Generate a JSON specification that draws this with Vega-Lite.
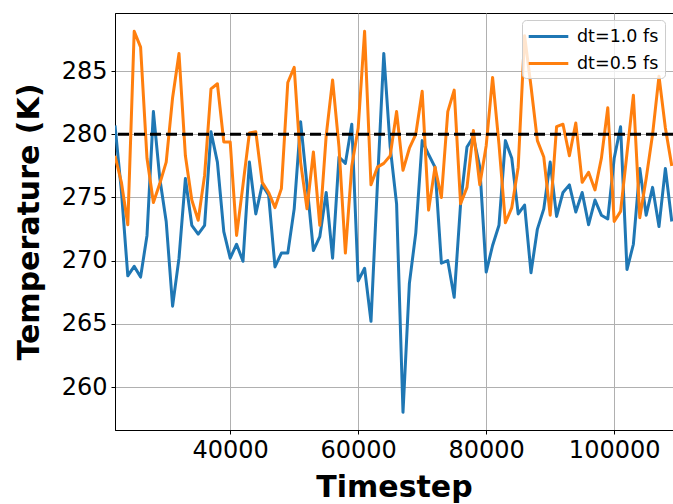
{
  "$schema": "https://vega.github.io/schema/vega-lite/v6.json",
  "width": 558,
  "height": 417,
  "autosize": {"type": "none"},
  "padding": {"left": 115, "top": 13, "right": 0, "bottom": 74},
  "background": "white",
  "config": {
    "font": "DejaVu Sans",
    "view": {"stroke": "#000000", "strokeWidth": 1},
    "axis": {
      "labelFont": "DejaVu Sans", "labelFontSize": 24, "labelColor": "#000000",
      "titleFont": "DejaVu Sans", "titleFontSize": 30, "titleFontWeight": "bold", "titleColor": "#000000",
      "tickColor": "#000000", "tickSize": 4, "tickWidth": 1, "labelPadding": 4,
      "domainColor": "#000000", "domainWidth": 1,
      "grid": true, "gridColor": "#b0b0b0", "gridWidth": 1
    }
  },
  "datasets": {
    "temps": [
      {"t":22000,"T":280.7,"s":"dt=1.0 fs"},{"t":23000,"T":275.5,"s":"dt=1.0 fs"},{"t":24000,"T":268.8,"s":"dt=1.0 fs"},{"t":25000,"T":269.55,"s":"dt=1.0 fs"},{"t":26000,"T":268.7,"s":"dt=1.0 fs"},{"t":27000,"T":272.0,"s":"dt=1.0 fs"},{"t":28000,"T":281.8,"s":"dt=1.0 fs"},{"t":29000,"T":276.5,"s":"dt=1.0 fs"},{"t":30000,"T":273.1,"s":"dt=1.0 fs"},{"t":31000,"T":266.4,"s":"dt=1.0 fs"},
      {"t":32000,"T":270.2,"s":"dt=1.0 fs"},{"t":33000,"T":276.5,"s":"dt=1.0 fs"},{"t":34000,"T":272.8,"s":"dt=1.0 fs"},{"t":35000,"T":272.1,"s":"dt=1.0 fs"},{"t":36000,"T":272.8,"s":"dt=1.0 fs"},{"t":37000,"T":280.2,"s":"dt=1.0 fs"},{"t":38000,"T":277.8,"s":"dt=1.0 fs"},{"t":39000,"T":272.3,"s":"dt=1.0 fs"},{"t":40000,"T":270.2,"s":"dt=1.0 fs"},{"t":41000,"T":271.3,"s":"dt=1.0 fs"},
      {"t":42000,"T":269.95,"s":"dt=1.0 fs"},{"t":43000,"T":277.8,"s":"dt=1.0 fs"},{"t":44000,"T":273.7,"s":"dt=1.0 fs"},{"t":45000,"T":276.0,"s":"dt=1.0 fs"},{"t":46000,"T":275.2,"s":"dt=1.0 fs"},{"t":47000,"T":269.5,"s":"dt=1.0 fs"},{"t":48000,"T":270.6,"s":"dt=1.0 fs"},{"t":49000,"T":270.6,"s":"dt=1.0 fs"},{"t":50000,"T":274.1,"s":"dt=1.0 fs"},{"t":51000,"T":281.0,"s":"dt=1.0 fs"},
      {"t":52000,"T":276.0,"s":"dt=1.0 fs"},{"t":53000,"T":270.8,"s":"dt=1.0 fs"},{"t":54000,"T":271.9,"s":"dt=1.0 fs"},{"t":55000,"T":275.4,"s":"dt=1.0 fs"},{"t":56000,"T":270.2,"s":"dt=1.0 fs"},{"t":57000,"T":278.2,"s":"dt=1.0 fs"},{"t":58000,"T":277.7,"s":"dt=1.0 fs"},{"t":59000,"T":280.8,"s":"dt=1.0 fs"},{"t":60000,"T":268.4,"s":"dt=1.0 fs"},{"t":61000,"T":269.4,"s":"dt=1.0 fs"},
      {"t":62000,"T":265.2,"s":"dt=1.0 fs"},{"t":63000,"T":276.0,"s":"dt=1.0 fs"},{"t":64000,"T":286.4,"s":"dt=1.0 fs"},{"t":65000,"T":279.0,"s":"dt=1.0 fs"},{"t":66000,"T":274.5,"s":"dt=1.0 fs"},{"t":67000,"T":258.0,"s":"dt=1.0 fs"},{"t":68000,"T":268.2,"s":"dt=1.0 fs"},{"t":69000,"T":272.2,"s":"dt=1.0 fs"},{"t":70000,"T":279.5,"s":"dt=1.0 fs"},{"t":71000,"T":278.4,"s":"dt=1.0 fs"},
      {"t":72000,"T":277.4,"s":"dt=1.0 fs"},{"t":73000,"T":269.8,"s":"dt=1.0 fs"},{"t":74000,"T":270.0,"s":"dt=1.0 fs"},{"t":75000,"T":267.1,"s":"dt=1.0 fs"},{"t":76000,"T":274.5,"s":"dt=1.0 fs"},{"t":77000,"T":279.0,"s":"dt=1.0 fs"},{"t":78000,"T":279.8,"s":"dt=1.0 fs"},{"t":79000,"T":277.4,"s":"dt=1.0 fs"},{"t":80000,"T":269.1,"s":"dt=1.0 fs"},{"t":81000,"T":271.2,"s":"dt=1.0 fs"},
      {"t":82000,"T":272.8,"s":"dt=1.0 fs"},{"t":83000,"T":279.5,"s":"dt=1.0 fs"},{"t":84000,"T":278.1,"s":"dt=1.0 fs"},{"t":85000,"T":273.7,"s":"dt=1.0 fs"},{"t":86000,"T":274.4,"s":"dt=1.0 fs"},{"t":87000,"T":269.05,"s":"dt=1.0 fs"},{"t":88000,"T":272.5,"s":"dt=1.0 fs"},{"t":89000,"T":274.1,"s":"dt=1.0 fs"},{"t":90000,"T":277.8,"s":"dt=1.0 fs"},{"t":91000,"T":273.5,"s":"dt=1.0 fs"},
      {"t":92000,"T":275.4,"s":"dt=1.0 fs"},{"t":93000,"T":276.0,"s":"dt=1.0 fs"},{"t":94000,"T":273.85,"s":"dt=1.0 fs"},{"t":95000,"T":275.4,"s":"dt=1.0 fs"},{"t":96000,"T":272.85,"s":"dt=1.0 fs"},{"t":97000,"T":274.8,"s":"dt=1.0 fs"},{"t":98000,"T":273.6,"s":"dt=1.0 fs"},{"t":99000,"T":273.3,"s":"dt=1.0 fs"},{"t":100000,"T":278.1,"s":"dt=1.0 fs"},{"t":101000,"T":280.6,"s":"dt=1.0 fs"},
      {"t":102000,"T":269.3,"s":"dt=1.0 fs"},{"t":103000,"T":271.3,"s":"dt=1.0 fs"},{"t":104000,"T":277.3,"s":"dt=1.0 fs"},{"t":105000,"T":273.6,"s":"dt=1.0 fs"},{"t":106000,"T":275.8,"s":"dt=1.0 fs"},{"t":107000,"T":272.7,"s":"dt=1.0 fs"},{"t":108000,"T":277.3,"s":"dt=1.0 fs"},{"t":109000,"T":273.1,"s":"dt=1.0 fs"},
      {"t":22000,"T":278.3,"s":"dt=0.5 fs"},{"t":23000,"T":276.2,"s":"dt=0.5 fs"},{"t":24000,"T":272.85,"s":"dt=0.5 fs"},{"t":25000,"T":288.15,"s":"dt=0.5 fs"},{"t":26000,"T":286.9,"s":"dt=0.5 fs"},{"t":27000,"T":278.1,"s":"dt=0.5 fs"},{"t":28000,"T":274.6,"s":"dt=0.5 fs"},{"t":29000,"T":276.1,"s":"dt=0.5 fs"},{"t":30000,"T":277.8,"s":"dt=0.5 fs"},{"t":31000,"T":282.9,"s":"dt=0.5 fs"},
      {"t":32000,"T":286.4,"s":"dt=0.5 fs"},{"t":33000,"T":278.3,"s":"dt=0.5 fs"},{"t":34000,"T":274.8,"s":"dt=0.5 fs"},{"t":35000,"T":273.2,"s":"dt=0.5 fs"},{"t":36000,"T":276.75,"s":"dt=0.5 fs"},{"t":37000,"T":283.6,"s":"dt=0.5 fs"},{"t":38000,"T":284.0,"s":"dt=0.5 fs"},{"t":39000,"T":279.4,"s":"dt=0.5 fs"},{"t":40000,"T":279.4,"s":"dt=0.5 fs"},{"t":41000,"T":272.0,"s":"dt=0.5 fs"},
      {"t":42000,"T":276.0,"s":"dt=0.5 fs"},{"t":43000,"T":280.1,"s":"dt=0.5 fs"},{"t":44000,"T":280.2,"s":"dt=0.5 fs"},{"t":45000,"T":276.2,"s":"dt=0.5 fs"},{"t":46000,"T":275.4,"s":"dt=0.5 fs"},{"t":47000,"T":274.2,"s":"dt=0.5 fs"},{"t":48000,"T":275.7,"s":"dt=0.5 fs"},{"t":49000,"T":284.1,"s":"dt=0.5 fs"},{"t":50000,"T":285.3,"s":"dt=0.5 fs"},{"t":51000,"T":277.8,"s":"dt=0.5 fs"},
      {"t":52000,"T":274.1,"s":"dt=0.5 fs"},{"t":53000,"T":278.6,"s":"dt=0.5 fs"},{"t":54000,"T":272.8,"s":"dt=0.5 fs"},{"t":55000,"T":279.9,"s":"dt=0.5 fs"},{"t":56000,"T":284.3,"s":"dt=0.5 fs"},{"t":57000,"T":279.0,"s":"dt=0.5 fs"},{"t":58000,"T":270.6,"s":"dt=0.5 fs"},{"t":59000,"T":277.5,"s":"dt=0.5 fs"},{"t":60000,"T":280.5,"s":"dt=0.5 fs"},{"t":61000,"T":288.15,"s":"dt=0.5 fs"},
      {"t":62000,"T":276.0,"s":"dt=0.5 fs"},{"t":63000,"T":277.4,"s":"dt=0.5 fs"},{"t":64000,"T":277.7,"s":"dt=0.5 fs"},{"t":65000,"T":278.3,"s":"dt=0.5 fs"},{"t":66000,"T":281.8,"s":"dt=0.5 fs"},{"t":67000,"T":277.15,"s":"dt=0.5 fs"},{"t":68000,"T":278.9,"s":"dt=0.5 fs"},{"t":69000,"T":280.0,"s":"dt=0.5 fs"},{"t":70000,"T":283.4,"s":"dt=0.5 fs"},{"t":71000,"T":274.0,"s":"dt=0.5 fs"},
      {"t":72000,"T":277.4,"s":"dt=0.5 fs"},{"t":73000,"T":275.0,"s":"dt=0.5 fs"},{"t":74000,"T":281.8,"s":"dt=0.5 fs"},{"t":75000,"T":283.5,"s":"dt=0.5 fs"},{"t":76000,"T":274.5,"s":"dt=0.5 fs"},{"t":77000,"T":275.8,"s":"dt=0.5 fs"},{"t":78000,"T":280.3,"s":"dt=0.5 fs"},{"t":79000,"T":276.0,"s":"dt=0.5 fs"},{"t":80000,"T":279.1,"s":"dt=0.5 fs"},{"t":81000,"T":284.5,"s":"dt=0.5 fs"},
      {"t":82000,"T":279.2,"s":"dt=0.5 fs"},{"t":83000,"T":273.0,"s":"dt=0.5 fs"},{"t":84000,"T":274.2,"s":"dt=0.5 fs"},{"t":85000,"T":277.4,"s":"dt=0.5 fs"},{"t":86000,"T":287.8,"s":"dt=0.5 fs"},{"t":87000,"T":283.8,"s":"dt=0.5 fs"},{"t":88000,"T":279.5,"s":"dt=0.5 fs"},{"t":89000,"T":278.2,"s":"dt=0.5 fs"},{"t":90000,"T":273.6,"s":"dt=0.5 fs"},{"t":91000,"T":280.6,"s":"dt=0.5 fs"},
      {"t":92000,"T":280.8,"s":"dt=0.5 fs"},{"t":93000,"T":278.3,"s":"dt=0.5 fs"},{"t":94000,"T":280.9,"s":"dt=0.5 fs"},{"t":95000,"T":276.2,"s":"dt=0.5 fs"},{"t":96000,"T":277.0,"s":"dt=0.5 fs"},{"t":97000,"T":275.6,"s":"dt=0.5 fs"},{"t":98000,"T":278.1,"s":"dt=0.5 fs"},{"t":99000,"T":282.1,"s":"dt=0.5 fs"},{"t":100000,"T":273.1,"s":"dt=0.5 fs"},{"t":101000,"T":273.9,"s":"dt=0.5 fs"},
      {"t":102000,"T":278.5,"s":"dt=0.5 fs"},{"t":103000,"T":283.1,"s":"dt=0.5 fs"},{"t":104000,"T":273.4,"s":"dt=0.5 fs"},{"t":105000,"T":276.5,"s":"dt=0.5 fs"},{"t":106000,"T":280.0,"s":"dt=0.5 fs"},{"t":107000,"T":284.6,"s":"dt=0.5 fs"},{"t":108000,"T":280.5,"s":"dt=0.5 fs"},{"t":109000,"T":277.5,"s":"dt=0.5 fs"}
    ],
    "ref": [{"ref": 280}]
  },
  "layer": [
    {
      "data": {"name": "temps"},
      "transform": [{"filter": "datum.s === 'dt=1.0 fs'"}],
      "mark": {"type": "line", "strokeWidth": 3, "strokeJoin": "round", "clip": true},
      "encoding": {
        "x": {
          "field": "t", "type": "quantitative",
          "scale": {"domain": [22000, 109190], "nice": false, "zero": false},
          "axis": {"values": [40000, 60000, 80000, 100000], "format": "d", "title": "Timestep", "titlePadding": 10}
        },
        "y": {
          "field": "T", "type": "quantitative",
          "scale": {"domain": [256.6, 289.6], "nice": false, "zero": false},
          "axis": {"values": [260, 265, 270, 275, 280, 285], "title": "Temperature (K)", "titlePadding": 17}
        },
        "color": {
          "field": "s", "type": "nominal",
          "scale": {"domain": ["dt=1.0 fs", "dt=0.5 fs"], "range": ["#1f77b4", "#ff7f0e"]},
          "legend": {
            "orient": "none", "legendX": 407, "legendY": 7, "title": null,
            "symbolType": "M-2.2,0H2.2", "symbolStrokeWidth": 3, "symbolSize": 324, "symbolOffset": 10,
            "labelFont": "DejaVu Sans", "labelFontSize": 17.5, "labelColor": "#000000",
            "labelOffset": 18, "rowPadding": 8, "padding": 6,
            "fillColor": "rgba(255,255,255,0.8)", "strokeColor": "#cccccc", "cornerRadius": 4
          }
        }
      }
    },
    {
      "data": {"name": "temps"},
      "transform": [{"filter": "datum.s === 'dt=0.5 fs'"}],
      "mark": {"type": "line", "strokeWidth": 3, "strokeJoin": "round", "clip": true},
      "encoding": {
        "x": {"field": "t", "type": "quantitative"},
        "y": {"field": "T", "type": "quantitative"},
        "color": {"field": "s", "type": "nominal"}
      }
    },
    {
      "data": {"name": "ref"},
      "mark": {"type": "rule", "color": "#000000", "strokeWidth": 3, "strokeDash": [11, 5]},
      "encoding": {
        "y": {"field": "ref", "type": "quantitative"}
      }
    }
  ]
}
